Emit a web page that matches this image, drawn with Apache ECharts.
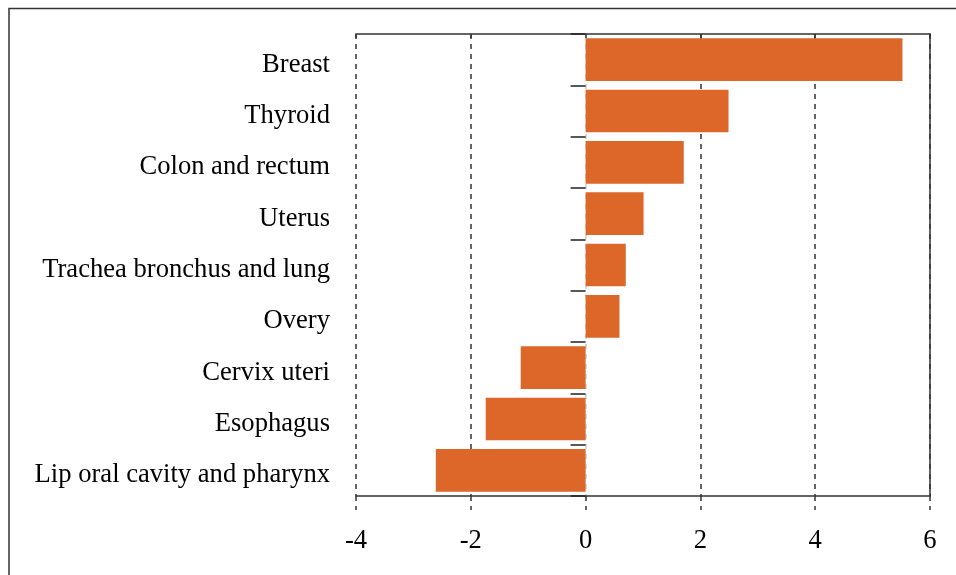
<!DOCTYPE html>
<html>
<head>
<meta charset="utf-8">
<script src="https://cdn.jsdelivr.net/npm/echarts@6/dist/echarts.min.js"></script>
<style>html,body{margin:0;padding:0;background:#fff}#c{width:956px;height:575px}</style>
</head>
<body>
<div id="c"></div>
<script>
const categories = ['Breast','Thyroid','Colon and rectum','Uterus','Trachea bronchus and lung','Overy','Cervix uteri','Esophagus','Lip oral cavity and pharynx'];
const values = [5.52, 2.49, 1.71, 1.01, 0.70, 0.59, -1.13, -1.74, -2.61];
const xTicks = [-4, -2, 0, 2, 4, 6];

const FONT = '"Liberation Serif", "Times New Roman", serif';
const chart = echarts.init(document.getElementById('c'));
chart.setOption({
  animation: false,
  backgroundColor: '#fff',
  graphic: [{
    type: 'rect', left: 6.5, top: 6, shape: {x: 0, y: 0, width: 1000, height: 700},
    style: {fill: 'none', stroke: '#333', lineWidth: 1.5}, silent: true, z: -1
  }],
  grid: {left: 356, right: 26, top: 34, bottom: 79},
  xAxis: [{
    type: 'value', position: 'bottom', min: xTicks[0], max: xTicks[xTicks.length-1], interval: 2,
    axisLine: {show: true, onZero: false, lineStyle: {color: '#333', width: 1.5}},
    axisTick: {show: true, length: 14, lineStyle: {color: '#333', width: 1.5, type: [5,5]}},
    axisLabel: {color: '#000', fontFamily: FONT, fontSize: 26.6, margin: 32},
    splitLine: {show: true, lineStyle: {color: ['#333','#333','#ccc','#333','#333','#333'], width: 1.5, type: [5,5]}}
  }, {
    type: 'value', position: 'top', min: xTicks[0], max: xTicks[xTicks.length-1], interval: 2,
    axisLine: {show: true, onZero: false, lineStyle: {color: '#333', width: 1.5}},
    axisTick: {show: true, inside: true, length: 4, lineStyle: {color: '#333', width: 1.5}},
    axisLabel: {show: false}, splitLine: {show: false}
  }],
  yAxis: [{
    type: 'category', data: categories, inverse: true, position: 'left',
    axisLine: {show: false, onZero: false}, axisTick: {show: false},
    axisLabel: {
      margin: 26,
      formatter: v => '{a|' + v + '}',
      rich: {a: {color: '#000', fontFamily: FONT, fontSize: 26.6, padding: [10, 0, 0, 0]}}
    }
  }, {
    type: 'category', data: categories, inverse: true, position: 'left',
    axisLine: {show: false, onZero: true, onZeroAxisIndex: 0},
    axisTick: {show: true, length: 15, lineStyle: {color: '#222', width: 1.5}},
    axisLabel: {show: false}
  }, {
    type: 'category', data: categories, inverse: true, position: 'right',
    axisLine: {show: true, onZero: false, lineStyle: {color: '#333', width: 1.5}},
    axisTick: {show: false}, axisLabel: {show: false}
  }],
  series: [{
    type: 'bar', data: values, xAxisIndex: 0, yAxisIndex: 0,
    barCategoryGap: '17%', itemStyle: {color: '#DD6629'}
  }]
});
</script>
</body>
</html>
